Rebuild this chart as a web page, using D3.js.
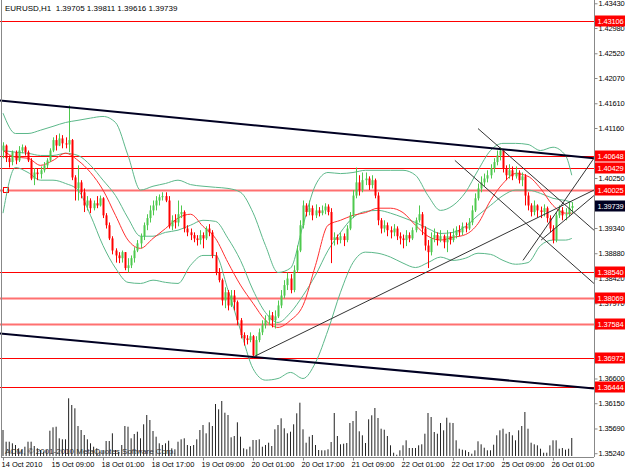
<!DOCTYPE html>
<html lang="en">
<head>
<meta charset="UTF-8">
<title>EURUSD,H1</title>
<script src="https://d3js.org/d3.v7.min.js"></script>
<style>
  body { margin: 0; background: #fff; }
  svg { display: block; font-family: "Liberation Sans", Arial, sans-serif; }
  .axis text { font-size: 7.5px; fill: #000; }
  .axis line, .axis path { stroke: #888; }
</style>
</head>
<body>
<svg id="chart"></svg>
<script>
const width = 625;
const height = 469;

// hourly candles, 14 Oct 2010 -> 26 Oct 2010
const open = [1.4075,1.4084,1.4061,1.4054,1.4072,1.4057,1.4075,1.4081,1.4072,1.4057,
  1.4024,1.4035,1.4032,1.4039,1.4048,1.4057,1.4075,1.4094,1.4084,1.4097,
  1.4088,1.4086,1.4094,1.4026,1.4006,1.4017,1.3999,1.3975,1.3984,1.3970,
  1.3979,1.3975,1.3988,1.3957,1.3939,1.3915,1.3893,1.3884,1.3879,1.3890,
  1.3861,1.3866,1.3879,1.3893,1.3906,1.3919,1.3939,1.3952,1.3966,1.3975,
  1.3984,1.3990,1.3992,1.3984,1.3937,1.3948,1.3944,1.3959,1.3963,1.3933,
  1.3926,1.3921,1.3915,1.3912,1.3921,1.3915,1.3933,1.3926,1.3884,1.3853,
  1.3839,1.3802,1.3817,1.3793,1.3811,1.3799,1.3766,1.3739,1.3733,1.3730,
  1.3737,1.3702,1.3730,1.3744,1.3757,1.3766,1.3775,1.3766,1.3773,1.3793,
  1.3811,1.3830,1.3842,1.3821,1.3857,1.3893,1.3939,1.3975,1.3963,1.3970,
  1.3957,1.3966,1.3961,1.3966,1.3973,1.3963,1.3912,1.3917,1.3912,1.3919,
  1.3912,1.3933,1.3957,1.3993,1.4017,1.4003,1.4021,1.4024,1.4012,1.4021,
  1.3993,1.3948,1.3933,1.3939,1.3930,1.3926,1.3933,1.3919,1.3915,1.3912,
  1.3921,1.3915,1.3930,1.3948,1.3959,1.3933,1.3902,1.3890,1.3915,1.3921,
  1.3912,1.3919,1.3908,1.3919,1.3912,1.3921,1.3930,1.3926,1.3937,1.3933,
  1.3944,1.3966,1.3988,1.4006,1.4017,1.4024,1.4030,1.4043,1.4054,1.4066,
  1.4075,1.4043,1.4030,1.4039,1.4028,1.4035,1.4021,1.4028,1.3993,1.3975,
  1.3963,1.3975,1.3966,1.3963,1.3970,1.3952,1.3933,1.3912,1.3957,1.3966,
  1.3957,1.3959,1.39705];
const high = [1.4090,1.4086,1.4066,1.4075,1.4075,1.4083,1.4086,1.4084,1.4075,1.4061,
  1.4043,1.4043,1.4046,1.4054,1.4061,1.4079,1.4099,1.4103,1.4106,1.4103,
  1.4099,1.4157,1.4096,1.4030,1.4048,1.4021,1.4006,1.3992,1.3988,1.3984,
  1.3992,1.3993,1.3990,1.3961,1.3944,1.3919,1.3897,1.3890,1.3893,1.3890,
  1.3879,1.3884,1.3899,1.3912,1.3924,1.3944,1.3959,1.3975,1.3984,1.3992,
  1.3995,1.3999,1.3999,1.3992,1.3957,1.3959,1.3984,1.3975,1.3966,1.3939,
  1.3933,1.3926,1.3921,1.3930,1.3926,1.3937,1.3941,1.3930,1.3890,1.3861,
  1.3842,1.3826,1.3821,1.3821,1.3821,1.3802,1.3770,1.3744,1.3739,1.3744,
  1.3739,1.3737,1.3751,1.3766,1.3775,1.3784,1.3781,1.3784,1.3802,1.3821,
  1.3839,1.3853,1.3850,1.3866,1.3902,1.3948,1.3984,1.3979,1.3984,1.3975,
  1.3977,1.3972,1.3975,1.3979,1.3977,1.3970,1.3926,1.3922,1.3926,1.3924,
  1.3939,1.3963,1.4003,1.4044,1.4030,1.4035,1.4035,1.4028,1.4030,1.4024,
  1.3999,1.3952,1.3948,1.3944,1.3937,1.3941,1.3937,1.3926,1.3922,1.3930,
  1.3926,1.3935,1.3953,1.3975,1.3963,1.3937,1.3912,1.3926,1.3933,1.3926,
  1.3930,1.3922,1.3930,1.3926,1.3933,1.3937,1.3939,1.3944,1.3944,1.3952,
  1.3975,1.3997,1.4015,1.4028,1.4033,1.4039,1.4050,1.4061,1.4075,1.4081,
  1.4075,1.4048,1.4050,1.4046,1.4046,1.4039,1.4035,1.4032,1.3999,1.3979,
  1.3984,1.3977,1.3973,1.3977,1.3973,1.3957,1.3939,1.3963,1.3975,1.3972,
  1.3970,1.3981,1.39811];
const low = [1.4061,1.4054,1.4044,1.4048,1.4050,1.4054,1.4070,1.4066,1.4054,1.4021,
  1.4012,1.4021,1.4024,1.4035,1.4043,1.4054,1.4072,1.4075,1.4083,1.4079,
  1.4079,1.4072,1.4021,1.3984,1.3984,1.3988,1.3963,1.3966,1.3961,1.3966,
  1.3970,1.3973,1.3952,1.3933,1.3912,1.3886,1.3871,1.3870,1.3871,1.3857,
  1.3853,1.3861,1.3871,1.3890,1.3897,1.3912,1.3930,1.3944,1.3957,1.3966,
  1.3975,1.3984,1.3981,1.3933,1.3930,1.3933,1.3937,1.3952,1.3926,1.3919,
  1.3912,1.3908,1.3902,1.3904,1.3897,1.3912,1.3919,1.3879,1.3848,1.3835,
  1.3793,1.3788,1.3784,1.3790,1.3784,1.3757,1.3733,1.3720,1.3722,1.3726,
  1.3697,1.3700,1.3726,1.3739,1.3751,1.3757,1.3753,1.3751,1.3770,1.3788,
  1.3806,1.3821,1.3815,1.3817,1.3853,1.3890,1.3933,1.3955,1.3957,1.3948,
  1.3952,1.3955,1.3957,1.3959,1.3957,1.3870,1.3902,1.3904,1.3906,1.3901,
  1.3908,1.3930,1.3952,1.3988,1.3993,1.3999,1.4012,1.4003,1.4006,1.3988,
  1.3939,1.3924,1.3926,1.3919,1.3915,1.3919,1.3912,1.3904,1.3897,1.3901,
  1.3908,1.3912,1.3926,1.3944,1.3921,1.3893,1.3861,1.3884,1.3908,1.3902,
  1.3908,1.3897,1.3890,1.3904,1.3908,1.3915,1.3919,1.3921,1.3926,1.3930,
  1.3939,1.3963,1.3984,1.3999,1.4010,1.4017,1.4024,1.4035,1.4048,1.4057,
  1.4035,1.4021,1.4024,1.4021,1.4024,1.4015,1.4010,1.3975,1.3966,1.3955,
  1.3957,1.3953,1.3952,1.3955,1.3944,1.3926,1.3906,1.3908,1.3952,1.3948,
  1.3948,1.3955,1.39616];
const close = [1.4084,1.4061,1.4054,1.4072,1.4057,1.4075,1.4081,1.4072,1.4057,1.4024,
  1.4035,1.4032,1.4039,1.4048,1.4057,1.4075,1.4094,1.4084,1.4097,1.4088,
  1.4086,1.4094,1.4026,1.4006,1.4017,1.3999,1.3975,1.3984,1.3970,1.3979,
  1.3975,1.3988,1.3957,1.3939,1.3915,1.3893,1.3884,1.3879,1.3890,1.3861,
  1.3866,1.3879,1.3893,1.3906,1.3919,1.3939,1.3952,1.3966,1.3975,1.3984,
  1.3990,1.3992,1.3984,1.3937,1.3948,1.3944,1.3959,1.3963,1.3933,1.3926,
  1.3921,1.3915,1.3912,1.3921,1.3915,1.3933,1.3926,1.3884,1.3853,1.3839,
  1.3802,1.3817,1.3793,1.3811,1.3799,1.3766,1.3739,1.3733,1.3730,1.3737,
  1.3702,1.3730,1.3744,1.3757,1.3766,1.3775,1.3766,1.3773,1.3793,1.3811,
  1.3830,1.3842,1.3821,1.3857,1.3893,1.3939,1.3975,1.3963,1.3970,1.3957,
  1.3966,1.3961,1.3966,1.3973,1.3963,1.3912,1.3917,1.3912,1.3919,1.3912,
  1.3933,1.3957,1.3993,1.4017,1.4003,1.4021,1.4024,1.4012,1.4021,1.3993,
  1.3948,1.3933,1.3939,1.3930,1.3926,1.3933,1.3919,1.3915,1.3912,1.3921,
  1.3915,1.3930,1.3948,1.3959,1.3933,1.3902,1.3890,1.3915,1.3921,1.3912,
  1.3919,1.3908,1.3919,1.3912,1.3921,1.3930,1.3926,1.3937,1.3933,1.3944,
  1.3966,1.3988,1.4006,1.4017,1.4024,1.4030,1.4043,1.4054,1.4066,1.4075,
  1.4043,1.4030,1.4039,1.4028,1.4035,1.4021,1.4028,1.3993,1.3975,1.3963,
  1.3975,1.3966,1.3963,1.3970,1.3952,1.3933,1.3912,1.3957,1.3966,1.3957,
  1.3959,1.39705,1.39739];
const volume = [1300,715,715,635,550,385,300,465,715,715,
  500,385,300,215,300,1265,1435,1465,885,835,
  835,2885,2550,2385,1500,1300,1050,835,635,465,
  385,215,300,750,750,1135,300,215,550,1500,
  1465,885,1100,1215,885,1585,2050,1800,1250,965,
  635,550,635,765,385,335,715,835,885,550,
  500,550,835,1300,1550,1135,1685,1500,2600,2335,
  2750,2165,2050,935,1000,1685,965,385,335,465,
  800,800,835,465,550,665,500,1335,1550,1885,
  1385,1135,1215,1585,2135,2665,1335,665,965,1050,
  550,300,285,285,335,700,2150,1000,585,615,
  650,1650,1750,2250,1235,1035,650,1835,2035,2400,
  1900,1365,1315,1000,535,165,65,285,535,785,
  400,400,400,535,585,1115,2150,1950,1200,1115,
  1650,1285,1915,1665,1650,785,365,315,285,200,
  115,285,735,585,415,285,285,565,1035,1285,
  1365,1115,1200,1035,785,1285,1500,2200,1365,665,
  585,535,365,165,165,535,785,785,365,400,
  315,365,900];

// indicator lines at these bars
const bandBars = [0,4,8,12,16,20,24,28,32,36,40,44,48,52,56,60,64,68,72,76,80,84,88,92,
  96,100,104,108,112,116,120,124,128,132,136,140,144,148,152,156,160,164,168,172,176,180,182];
const bandUpper = [1.4143,1.4106,1.4106,1.4112,1.4119,1.4126,1.4130,1.4134,1.4137,1.4126,
  1.4066,1.4003,1.4010,1.4015,1.4021,1.4013,1.4010,1.4008,1.4006,1.3999,
  1.3962,1.3902,1.3853,1.3861,1.3939,1.4012,1.4035,1.4033,1.4035,1.4039,
  1.4039,1.4039,1.4039,1.4030,1.3993,1.3966,1.3975,1.3999,1.4039,1.4075,
  1.4088,1.4088,1.4086,1.4075,1.4081,1.4066,1.4030];
const bandMiddle = [1.4075,1.4072,1.4070,1.4066,1.4066,1.4070,1.4066,1.4048,1.4021,1.3993,
  1.3952,1.3919,1.3919,1.3926,1.3930,1.3939,1.3948,1.3946,1.3915,1.3875,
  1.3821,1.3780,1.3762,1.3780,1.3811,1.3848,1.3893,1.3926,1.3953,1.3964,
  1.3966,1.3961,1.3953,1.3944,1.3933,1.3924,1.3926,1.3937,1.3957,1.3975,
  1.3993,1.4003,1.4003,1.3997,1.3988,1.3984,1.3981];
const bandLower = [1.3961,1.4044,1.4035,1.4021,1.4021,1.4015,1.4003,1.3957,1.3902,1.3861,
  1.3835,1.3833,1.3839,1.3835,1.3833,1.3866,1.3884,1.3884,1.3821,1.3748,
  1.3678,1.3657,1.3660,1.3671,1.3660,1.3689,1.3748,1.3817,1.3871,1.3890,
  1.3888,1.3881,1.3870,1.3862,1.3871,1.3881,1.3875,1.3879,1.3888,1.3886,
  1.3875,1.3868,1.3871,1.3902,1.3912,1.3912,1.3915];
const maRed = [1.4075,1.4063,1.4061,1.4048,1.4057,1.4070,1.4057,1.4035,1.4003,1.3957,
  1.3912,1.3897,1.3915,1.3933,1.3952,1.3959,1.3937,1.3915,1.3871,1.3830,
  1.3797,1.3766,1.3753,1.3766,1.3793,1.3866,1.3939,1.3948,1.3957,1.3962,
  1.3970,1.3970,1.3962,1.3939,1.3919,1.3912,1.3917,1.3922,1.3942,1.3984,
  1.4015,1.4033,1.4028,1.4006,1.3975,1.3961,1.3961];

// horizontal levels
const levels = [1.43106, 1.40648, 1.40429, 1.40025, 1.38540, 1.38069, 1.37584, 1.36972, 1.36444];
const levelsFaint = [1.40025, 1.38069, 1.37584];
const lastPrice = 1.39739;

// trend lines as [bar, price] pairs
const channelLines = [
  [[-1, 1.4166], [189.1, 1.4061]],
  [[-1, 1.3742], [189.1, 1.3642]]
];
const thinLines = [
  [[80, 1.3699], [189.1, 1.4003]],
  [[152, 1.4115], [189.1, 1.3930]],
  [[144.6, 1.4057], [189.1, 1.3833]],
  [[166.4, 1.3875], [189.1, 1.4061]],
  [[172.2, 1.3912], [189.1, 1.3993]]
];

const priceTicks = [1.43430, 1.42980, 1.42520, 1.42070, 1.41610, 1.41160, 1.40700, 1.40250, 1.39790,
  1.39340, 1.38880, 1.38420, 1.37970, 1.37510, 1.37060, 1.36600, 1.36150, 1.35690, 1.35240];
const timeBars = [0, 16, 32, 48, 64, 80, 96, 112, 128, 144, 160, 176];
const timeLabels = ["14 Oct 2010", "15 Oct 09:00", "18 Oct 01:00", "18 Oct 17:00", "19 Oct 09:00",
  "20 Oct 01:00", "20 Oct 17:00", "21 Oct 09:00", "22 Oct 01:00", "22 Oct 17:00", "25 Oct 09:00", "26 Oct 01:00"];

const svg = d3.select("#chart").attr("width", width).attr("height", height);

const x = d3.scaleLinear().domain([0, 190]).range([3, 596.75]);
const y = d3.scaleLinear().domain([1.3508, 1.4349]).range([462, 0]);
const yVol = d3.scaleLinear().domain([0, 3000]).range([456, 396]);

const plotRight = 594;
const bars = close.map((c, i) => ({ i, o: open[i], h: high[i], l: low[i], c, v: volume[i] }));

svg.append("defs").append("clipPath").attr("id", "plot")
  .append("rect").attr("x", 0).attr("y", 0).attr("width", plotRight).attr("height", 457);
const plot = svg.append("g").attr("clip-path", "url(#plot)");

// volumes
plot.append("g").selectAll("rect")
  .data(bars)
  .join("rect")
  .attr("x", d => x(d.i) - 0.5)
  .attr("y", d => yVol(d.v))
  .attr("width", 1)
  .attr("height", d => yVol(0) - yVol(d.v))
  .attr("fill", "#222");

// horizontal levels
plot.append("g").selectAll("line")
  .data(levels)
  .join("line")
  .attr("x1", 0).attr("x2", plotRight)
  .attr("y1", d => Math.round(y(d)) + 0.5).attr("y2", d => Math.round(y(d)) + 0.5)
  .attr("stroke", d => levelsFaint.includes(d) ? "#ff7070" : "#ff0000")
  .attr("stroke-width", d => levelsFaint.includes(d) ? 2 : 1);

plot.append("rect")
  .attr("x", 3.5).attr("y", Math.round(y(levels[3])) - 2.5)
  .attr("width", 5).attr("height", 5)
  .attr("fill", "#fff").attr("stroke", "#ff0000");

// bollinger bands + moving average
const bandLine = d3.line().x((d, k) => x(bandBars[k])).y(d => y(d)).curve(d3.curveMonotoneX);
[bandUpper, bandMiddle, bandLower].forEach(s => {
  plot.append("path").attr("d", bandLine(s))
    .attr("fill", "none").attr("stroke", "#5cb88a").attr("stroke-width", 1);
});
plot.append("path").attr("d", bandLine(maRed))
  .attr("fill", "none").attr("stroke", "#ff3030").attr("stroke-width", 1);

// candles
const candle = plot.append("g").selectAll("g")
  .data(bars)
  .join("g")
  .attr("fill", d => d.c >= d.o ? "#4ec94e" : "#ff0000")
  .attr("stroke", d => d.c >= d.o ? "#4ec94e" : "#ff0000");
candle.append("line")
  .attr("x1", d => Math.round(x(d.i)) + 0.5).attr("x2", d => Math.round(x(d.i)) + 0.5)
  .attr("y1", d => y(d.h)).attr("y2", d => y(d.l));
candle.append("rect")
  .attr("x", d => Math.round(x(d.i)) - 0.5)
  .attr("y", d => y(Math.max(d.o, d.c)))
  .attr("width", 2)
  .attr("height", d => Math.max(1, Math.abs(y(d.o) - y(d.c))))
  .attr("stroke", "none");

// trend lines
plot.append("g").selectAll("line")
  .data(channelLines)
  .join("line")
  .attr("x1", d => x(d[0][0])).attr("y1", d => y(d[0][1]))
  .attr("x2", d => x(d[1][0])).attr("y2", d => y(d[1][1]))
  .attr("stroke", "#000022").attr("stroke-width", 2);
plot.append("g").selectAll("line")
  .data(thinLines)
  .join("line")
  .attr("x1", d => x(d[0][0])).attr("y1", d => y(d[0][1]))
  .attr("x2", d => x(d[1][0])).attr("y2", d => y(d[1][1]))
  .attr("stroke", "#333").attr("stroke-width", 1);

// frame
svg.append("line").attr("x1", 1.5).attr("x2", 1.5).attr("y1", 0).attr("y2", 457.5).attr("stroke", "#888");
svg.append("line").attr("x1", 1).attr("x2", plotRight).attr("y1", 457.5).attr("y2", 457.5).attr("stroke", "#888");

// price axis
const yAxis = svg.append("g").attr("class", "axis")
  .attr("transform", `translate(${plotRight + 0.5},0)`)
  .call(d3.axisRight(y).tickValues(priceTicks).tickSize(3).tickPadding(1).tickFormat(d3.format(".5f")));
yAxis.select(".domain").attr("d", "M0,0V457");
yAxis.selectAll("text").attr("letter-spacing", -0.15);
// labels sitting right under a price tag are hidden by it
yAxis.selectAll(".tick")
  .filter(d => levels.concat([lastPrice]).some(l => Math.abs(y(l) - y(d)) < 5))
  .select("text").remove();

// level tags
const tags = svg.append("g").selectAll("g")
  .data(levels)
  .join("g")
  .attr("transform", d => `translate(${plotRight + 1},${Math.round(y(d))})`);
tags.append("rect").attr("x", 0).attr("y", -5.5).attr("width", 30).attr("height", 11).attr("fill", "#ff0000");
tags.append("text").attr("x", 2.5).attr("y", 3).attr("font-size", 7.5).attr("letter-spacing", -0.15).attr("fill", "#fff")
  .text(d => d3.format(".5f")(d));

const cur = svg.append("g").attr("transform", `translate(${plotRight + 1},${Math.round(y(lastPrice))})`);
cur.append("rect").attr("x", 0).attr("y", -5.5).attr("width", 30).attr("height", 11).attr("fill", "#000022");
cur.append("text").attr("x", 2.5).attr("y", 3).attr("font-size", 7.5).attr("letter-spacing", -0.15).attr("fill", "#fff")
  .text(d3.format(".5f")(lastPrice));

// time axis
const xAxis = svg.append("g").attr("class", "axis")
  .attr("transform", "translate(0,457.5)")
  .call(d3.axisBottom(x).tickValues(timeBars).tickSize(3).tickPadding(1).tickFormat((d, k) => timeLabels[k]));
xAxis.select(".domain").remove();
xAxis.selectAll("text").attr("text-anchor", "start").attr("dx", -2);

// header + footer text
svg.append("text").attr("x", 5).attr("y", 11).attr("font-size", 8).attr("fill", "#000")
  .style("white-space", "pre")
  .text("EURUSD,H1  " + [open[open.length - 1], high[high.length - 1], low[low.length - 1], close[close.length - 1]]
    .map(d3.format(".5f")).join(" "));
svg.append("text").attr("x", 5).attr("y", 454).attr("font-size", 8).attr("fill", "#333")
  .text("AOM, © 2001-2010 MetaQuotes Software Corp.");
</script>
</body>
</html>
